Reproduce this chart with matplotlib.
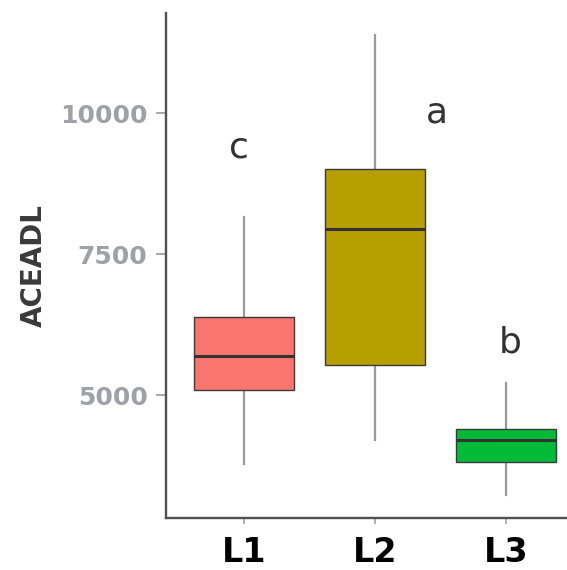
import matplotlib
matplotlib.use("Agg")
import matplotlib.pyplot as plt

# group names and box summary values
groups = ["L1", "L2", "L3"]
whis_lo = [3780, 4200, 3230]
q1 = [5090, 5530, 3810]
med = [5690, 7950, 4200]
q3 = [6380, 9010, 4400]
whis_hi = [8160, 11380, 5210]
colors = ["#F8766D", "#B79F00", "#00BA38"]

# significance letters
letters = ["c", "a", "b"]
letter_x = [0.96, 2.47, 3.03]
letter_y = [9220, 9840, 5765]

stats = []
for i, g in enumerate(groups):
    stats.append({"label": g, "whislo": whis_lo[i], "q1": q1[i], "med": med[i],
                  "q3": q3[i], "whishi": whis_hi[i], "fliers": []})

fig = plt.figure(figsize=(5.67, 5.70), dpi=100)
ax = fig.add_axes([0.2922, 0.0921, 0.7388, 0.8854])

bp = ax.bxp(stats, positions=[1, 2, 3], widths=0.76, showfliers=False,
            showcaps=False, patch_artist=True,
            boxprops=dict(edgecolor="#3a3a3a", linewidth=1.0),
            whiskerprops=dict(color="#9a9a9a", linewidth=1.6),
            medianprops=dict(color="#333333", linewidth=2.2))
for patch, c in zip(bp["boxes"], colors):
    patch.set_facecolor(c)
for w in bp["whiskers"]:
    w.set_zorder(1)

for x, y, t in zip(letter_x, letter_y, letters):
    ax.text(x, y, t, ha="center", va="baseline", fontsize=26, color="#333333")

ax.set_xlim(0.4, 3.6)
ax.set_ylim(2830, 11780)
ax.set_yticks([5000, 7500, 10000])
ax.set_yticklabels(["5000", "7500", "10000"])
ax.set_xticks([1, 2, 3])
ax.set_xticklabels(groups)

for s in ["top", "right"]:
    ax.spines[s].set_visible(False)
for s in ["left", "bottom"]:
    ax.spines[s].set_color("#505050")
    ax.spines[s].set_linewidth(1.7)

ax.tick_params(axis="y", colors="#a0a0a0", length=7, width=1.3, pad=6,
               labelsize=18, labelcolor="#a0a0a8")
ax.tick_params(axis="x", colors="#aaaaaa", length=4, width=1.3, pad=9,
               labelsize=24, labelcolor="black")
for lab in ax.get_xticklabels():
    lab.set_fontweight("bold")
for lab in ax.get_yticklabels():
    lab.set_fontweight("bold")

ax.set_ylabel("ACEADL", fontsize=20, fontweight="bold", color="#3a3a3a",
              va="center")
ax.yaxis.set_label_coords(-0.315, 0.5)

fig.savefig("out.png", dpi=100)
